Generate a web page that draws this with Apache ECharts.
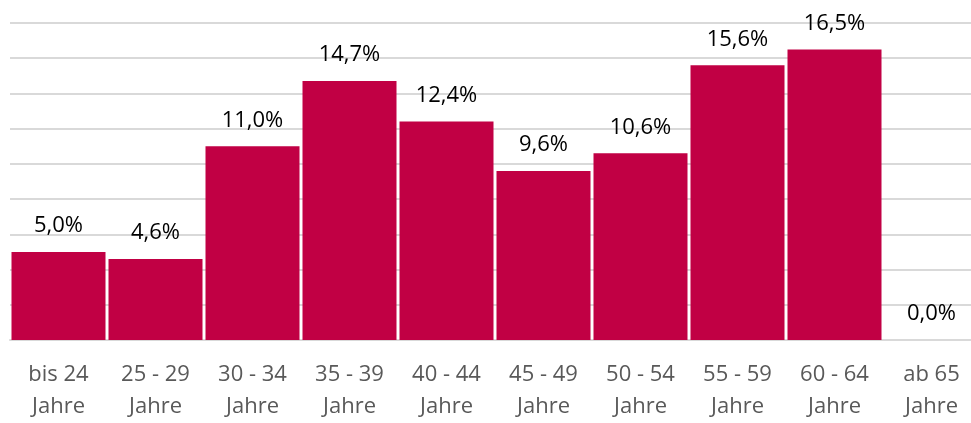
<!DOCTYPE html>
<html>
    <head>
        <meta charset="UTF-8">
        <title></title>
        <style>
            html, body { margin: 0; padding: 0; background: #fff; overflow: hidden; }
            /* the last category runs past the right edge in the original */
            #chart { width: 990px; height: 423px; }
        </style>
        <script src="https://cdn.jsdelivr.net/npm/echarts@6/dist/echarts.min.js"></script>
    </head>
    <body>
        <div id="chart"></div>
    </body>
    <script>
        // Altersgruppen
        var categories = ['bis 24\nJahre', '25 - 29\nJahre', '30 - 34\nJahre', '35 - 39\nJahre', '40 - 44\nJahre',
                          '45 - 49\nJahre', '50 - 54\nJahre', '55 - 59\nJahre', '60 - 64\nJahre', 'ab 65\nJahre'];
        var shares = [5.0, 4.6, 11.0, 14.7, 12.4, 9.6, 10.6, 15.6, 16.5, 0.0];

        var font = 'Open Sans';

        var chart = echarts.init(document.getElementById('chart'));
        chart.setOption({
            animation: false,
            grid: { left: 10, top: 23, width: 970, height: 319 },
            xAxis: {
                type: 'category',
                data: categories,
                axisLine: { show: true, lineStyle: { color: '#d9d9d9', width: 2 } },
                axisTick: { show: false },
                axisLabel: {
                    color: '#595959',
                    fontFamily: font,
                    fontSize: 22,
                    lineHeight: 32,
                    margin: 19,
                    interval: 0
                }
            },
            yAxis: {
                type: 'value',
                min: 0,
                max: 18,
                interval: 2,
                axisLabel: { show: false },
                axisLine: { show: false },
                axisTick: { show: false },
                splitLine: { lineStyle: { color: '#d9d9d9', width: 2 } }
            },
            series: [{
                type: 'bar',
                data: shares,
                barWidth: 94,
                itemStyle: { color: '#c10044' },
                label: {
                    show: true,
                    position: 'top',
                    distance: 15,
                    color: '#000',
                    fontFamily: font,
                    fontSize: 22,
                    formatter: function (p) {
                        return p.value.toFixed(1).replace('.', ',') + '%';
                    }
                }
            }]
        });
    </script>
</html>
